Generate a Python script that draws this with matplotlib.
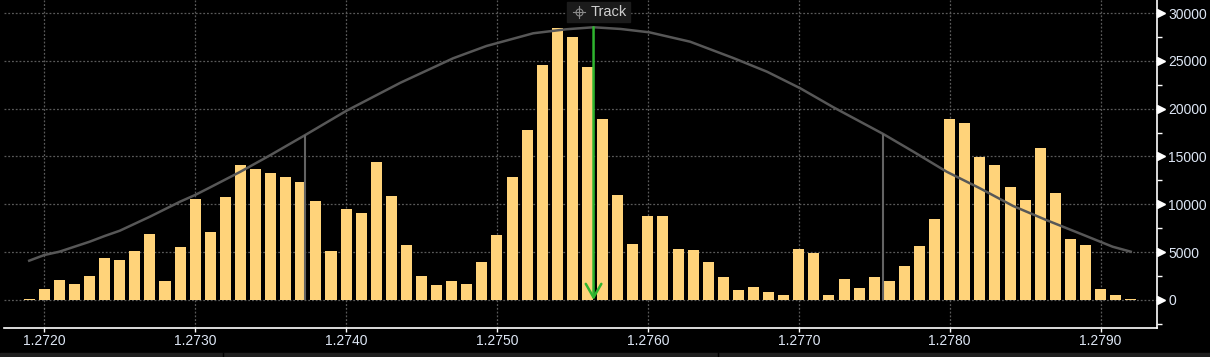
import matplotlib
matplotlib.use("Agg")
import matplotlib.pyplot as plt
from matplotlib import transforms
from matplotlib.lines import Line2D
from matplotlib.patches import Rectangle
from matplotlib.ticker import MultipleLocator, FixedLocator


# price bins (bar centres) and traded volume per bin
prices = [
    1.2719, 1.2720, 1.2721, 1.2722, 1.2723, 1.2724, 1.2725, 1.2726, 1.2727, 1.2728,
    1.2729, 1.2730, 1.2731, 1.2732, 1.2733, 1.2734, 1.2735, 1.2736, 1.2737, 1.2738,
    1.2739, 1.2740, 1.2741, 1.2742, 1.2743, 1.2744, 1.2745, 1.2746, 1.2747, 1.2748,
    1.2749, 1.2750, 1.2751, 1.2752, 1.2753, 1.2754, 1.2755, 1.2756, 1.2757, 1.2758,
    1.2759, 1.2760, 1.2761, 1.2762, 1.2763, 1.2764, 1.2765, 1.2766, 1.2767, 1.2768,
    1.2769, 1.2770, 1.2771, 1.2772, 1.2773, 1.2774, 1.2775, 1.2776, 1.2777, 1.2778,
    1.2779, 1.2780, 1.2781, 1.2782, 1.2783, 1.2784, 1.2785, 1.2786, 1.2787, 1.2788,
    1.2789, 1.2790, 1.2791, 1.2792,
]
volumes = [
    100, 1150, 2090, 1710, 2550, 4430, 4180, 5120, 6900, 1990,
    5580, 10560, 7110, 10770, 14120, 13700, 13280, 12860, 12380, 10350,
    5120, 9520, 9100, 14430, 10880, 5750, 2510, 1570, 1990, 1710,
    3970, 6800, 12860, 17780, 24560, 28400, 27490, 24360, 18920, 10980,
    5860, 8790, 8790, 5330, 5230, 3970, 2410, 1050, 1360, 840,
    520, 5330, 4920, 520, 2200, 1260, 2410, 1990, 3560, 5650,
    8470, 18930, 18510, 14960, 14120, 11820, 10460, 15900, 11190, 6380,
    5750, 1150, 520, 70,
]

# distribution curve
curve_x = [
    1.27190, 1.27200, 1.27210, 1.27220, 1.27230, 1.27240, 1.27250, 1.27270,
    1.27290, 1.27300, 1.27310, 1.27330, 1.27350, 1.27373, 1.27400, 1.27436,
    1.27471, 1.27493, 1.27524, 1.27546, 1.27564, 1.27582, 1.27601, 1.27628,
    1.27657, 1.27679, 1.27701, 1.27723, 1.27756, 1.27776, 1.27798, 1.27820,
    1.27842, 1.27864, 1.27886, 1.27908, 1.27920,
]
curve_y = [
    4110, 4700, 5050, 5570, 6090, 6690, 7240, 8710,
    10280, 10980, 11780, 13410, 15160, 17250, 19760, 22710,
    25270, 26550, 27880, 28300, 28510, 28330, 27980, 27000,
    25270, 23860, 22130, 20140, 17350, 15500, 13410, 11680,
    9830, 8360, 6970, 5570, 5050,
]

# markers: one-sigma lines and the track arrow
sigma_x = [1.27373, 1.27756]
sigma_y = [17250, 17350]
track_x = 1.27564
track_y = 28510

x_ticks = [1.2720, 1.2730, 1.2740, 1.2750, 1.2760, 1.2770, 1.2780, 1.2790]
y_ticks = [0, 5000, 10000, 15000, 20000, 25000, 30000]

W, H = 1210, 357
label_color = "#dde6f4"
grid_color = "#5a5a5a"

plt.rcParams["font.family"] = ["Liberation Sans", "DejaVu Sans"]

fig = plt.figure(figsize=(W / 100, H / 100), dpi=100, facecolor="black")
ax = fig.add_axes([4 / W, 29 / H, 1153 / W, 328 / H], facecolor="black")

ax.set_xlim(1.271733, 1.279374)
ax.set_ylim(-2927, 31359)

# grid
ax.xaxis.set_major_locator(FixedLocator(x_ticks))
ax.yaxis.set_major_locator(FixedLocator(y_ticks))
ax.yaxis.set_minor_locator(MultipleLocator(2500))
ax.grid(True, which="major", color=grid_color, linestyle=(0, (1.5, 1.5)), linewidth=0.9)
ax.set_axisbelow(True)

# bars
ax.bar(prices, volumes, width=0.000073, color="#ffd37a", zorder=2)

# curve and sigma lines
ax.plot(curve_x, curve_y, color="#575757", linewidth=1.8, zorder=3)
ax.vlines(sigma_x, 0, sigma_y, color="#636363", linewidth=1.5, zorder=3)

# track arrow
ax.annotate("", xy=(track_x, 0), xytext=(track_x, track_y),
            arrowprops=dict(arrowstyle="->,head_length=0.7,head_width=0.4",
                            color="#2fb52f", lw=1.8, mutation_scale=14,
                            shrinkA=0, shrinkB=0),
            zorder=4)

# spines and ticks
for side in ["left", "top"]:
    ax.spines[side].set_visible(False)
ax.spines["bottom"].set_color("white")
ax.spines["right"].set_color("white")
ax.spines["bottom"].set_linewidth(1.2)
ax.spines["right"].set_linewidth(1.2)

ax.set_xticklabels([f"{t:.4f}" for t in x_ticks])
ax.tick_params(axis="x", colors="white", labelcolor=label_color, length=3,
               width=1, pad=1.5, labelsize=10)
ax.yaxis.tick_right()
ax.tick_params(axis="y", which="major", length=0, pad=8, labelcolor=label_color,
               labelsize=10)
ax.tick_params(axis="y", which="minor", colors="white", length=3.5, width=1,
               direction="out")

# triangle markers on the price axis
tri = transforms.blended_transform_factory(ax.transAxes, ax.transData)
tri = tri + transforms.ScaledTranslation(3.5 / 100, 0, fig.dpi_scale_trans)
ax.plot([1.0] * len(y_ticks), y_ticks, linestyle="none", marker=">",
        markersize=5.5, color="white", transform=tri, clip_on=False, zorder=5)

# "Track" label box
fig.add_artist(Rectangle((567 / W, 1 - 22 / H), 63 / W, 20 / H,
                         transform=fig.transFigure, color="#1b1b1b"))
cx, cy = 579 / W, 1 - 12 / H
fig.add_artist(Line2D([cx - 6 / W, cx + 6 / W], [cy, cy], color="#8a8a8a", lw=0.8))
fig.add_artist(Line2D([cx, cx], [cy - 6 / H, cy + 6 / H], color="#8a8a8a", lw=0.8))
fig.add_artist(Line2D([cx], [cy], marker="o", markersize=5, markerfacecolor="none",
                      markeredgecolor="#8a8a8a", markeredgewidth=0.8))
fig.text(591 / W, cy, "Track", color="#cfcfcf", fontsize=10.5, va="center", ha="left")

# status strip at the bottom
fig.add_artist(Rectangle((0, 0), 1, 4 / H, transform=fig.transFigure, color="#1f1f1f"))
for sx in [223, 718]:
    fig.add_artist(Line2D([sx / W, sx / W], [0, 4 / H], color="black", lw=1))

fig.savefig("out.png", dpi=100, facecolor="black")
